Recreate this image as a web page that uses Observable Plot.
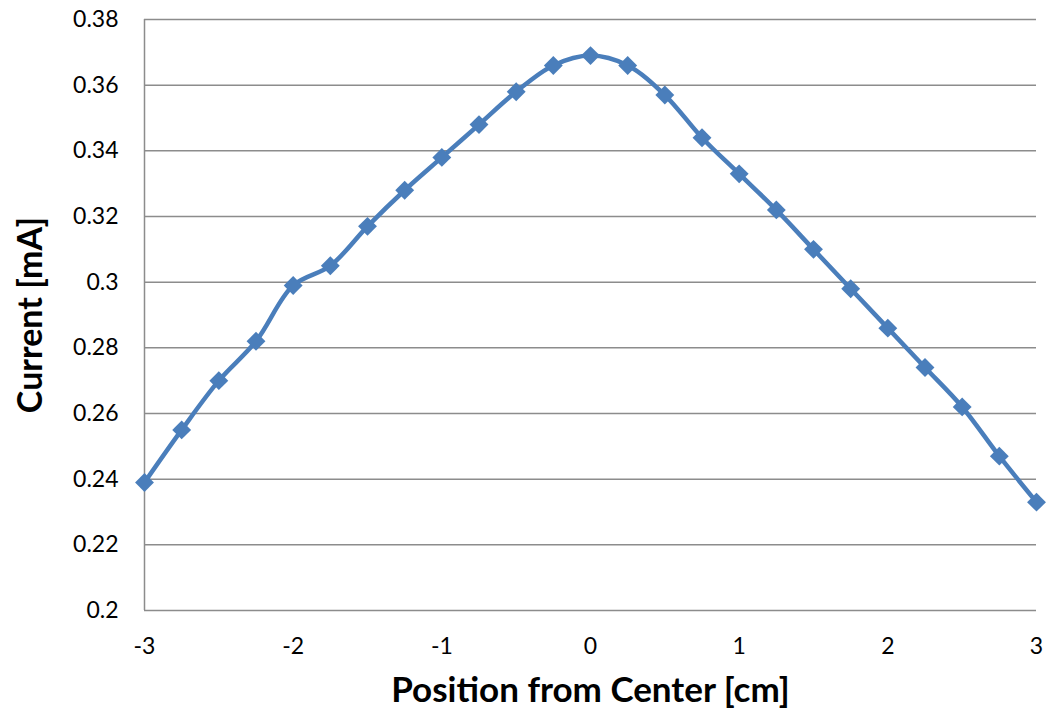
<!DOCTYPE html>
<html><head><meta charset="utf-8">
<script src="https://cdn.jsdelivr.net/npm/d3@7"></script>
<script src="https://cdn.jsdelivr.net/npm/@observablehq/plot@0.6"></script>
<style>body{margin:0;background:#fff;} svg{font-family:Lato,"Open Sans",sans-serif;}</style>
</head><body><div id="chart"></div>
<script>
const positions = [-3,-2.75,-2.5,-2.25,-2,-1.75,-1.5,-1.25,-1,-0.75,-0.5,-0.25,0,0.25,0.5,0.75,1,1.25,1.5,1.75,2,2.25,2.5,2.75,3];
const currents = [0.239,0.255,0.270,0.282,0.299,0.305,0.317,0.328,0.338,0.348,0.358,0.366,0.369,0.366,0.357,0.344,0.333,0.322,0.310,0.298,0.286,0.274,0.262,0.247,0.233];
const yTicks = [0.2,0.22,0.24,0.26,0.28,0.3,0.32,0.34,0.36,0.38];
const xTicks = [-3,-2,-1,0,1,2,3];
const xTitle = "Position from Center [cm]";
const yTitle = "Current [mA]";
const data = positions.map((x,i)=>({x, y: currents[i]}));
const blue = "#4a7ebb";
const chart = Plot.plot({
  width: 1051, height: 710,
  marginLeft: 144, marginRight: 15, marginTop: 19, marginBottom: 100,
  x: {domain: [-3,3]},
  y: {domain: [0.2,0.38]},
  style: {fontSize: "23px", color: "#000"},
  marks: [
    Plot.ruleY(yTicks, {stroke: "#8c8c8c", strokeWidth: 1.5, strokeOpacity: 1}),
    Plot.ruleX([-3], {stroke: "#8c8c8c", strokeWidth: 1.5}),
    Plot.axisY({ticks: yTicks, tickSize: 0, tickPadding: 26, tickFormat: d => String(+d.toFixed(2)), label: null, fontSize: 23}),
    Plot.axisX({ticks: xTicks, tickSize: 0, tickPadding: 27, tickFormat: d => String(d), label: null, fontSize: 23}),
    Plot.line(data, {x: "x", y: "y", stroke: blue, strokeWidth: 4.5, curve: "catmull-rom"}),
    Plot.dot(data, {x: "x", y: "y", symbol: "diamond2", r: 8.5, fill: blue, stroke: "none"}),
    Plot.text([yTitle], {frameAnchor: "left", textAnchor: "middle", rotate: -90, dx: -113, fontSize: 34, fontWeight: "bold", fill: "#000"}),
    Plot.text([xTitle], {frameAnchor: "bottom", textAnchor: "middle", dy: 91, fontSize: 35, fontWeight: "bold", fill: "#000"})
  ]
});
document.getElementById("chart").append(chart);
</script></body></html>
